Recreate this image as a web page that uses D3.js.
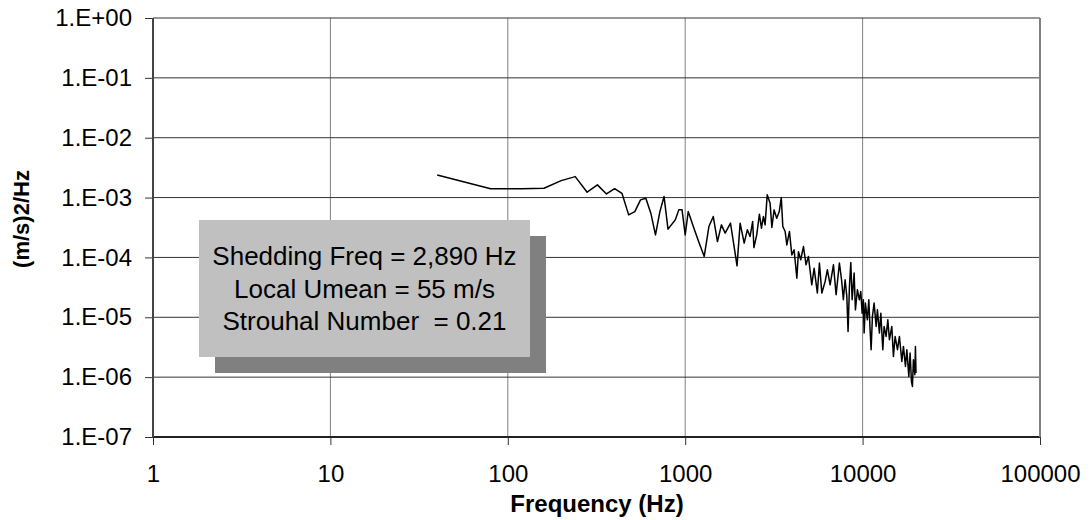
<!DOCTYPE html>
<html lang="en">
<head>
    <meta charset="UTF-8">
    <title>Spectrum</title>
    <script src="https://cdn.jsdelivr.net/npm/d3@7"></script>
    <style>
        body { margin: 0; background: #fff; }
        svg { display: block; font-family: "Liberation Sans", Arial, sans-serif; }
        .tick text { font-size: 24px; fill: #000; }
    </style>
</head>
<body>
<svg width="1090" height="520"></svg>
<script>
    // spectrum
    const freqHz = [
        40, 80, 120, 160, 200, 240, 280, 320, 360, 400,
        440, 480, 520, 560, 600, 640, 680, 720, 760, 800,
        880, 920, 960, 1000, 1040, 1120, 1200, 1280, 1360, 1440,
        1520, 1600, 1680, 1800, 1880, 1960, 2040, 2150, 2240, 2320,
        2400, 2440, 2530, 2620, 2690, 2760, 2820, 2900, 3010, 3080,
        3170, 3280, 3390, 3480, 3550, 3660, 3740, 3870, 3990, 4110,
        4260, 4350, 4480, 4640, 4800, 4950, 5170, 5330, 5560, 5710,
        5890, 6150, 6330, 6560, 6850, 7090, 7400, 7630, 7790, 7970,
        8150, 8280, 8430, 8580, 8730, 8960, 9110, 9350, 9590, 9770,
        9940, 10100, 10200, 10370, 10640, 10840, 11020, 11170, 11360, 11610,
        11920, 12120, 12440, 12670, 13000, 13220, 13570, 13870, 14160, 14610,
        14920, 15250, 15720, 16130, 16640, 16990, 17440, 17760, 18220, 18530,
        18850, 19090, 19340, 19700, 19850, 20000
    ];
    const psd = [
        2.39e-3, 1.40e-3, 1.41e-3, 1.43e-3, 1.92e-3, 2.24e-3, 1.23e-3, 1.63e-3, 1.15e-3, 1.41e-3,
        1.18e-3, 5.14e-4, 5.83e-4, 9.16e-4, 9.77e-4, 5.49e-4, 2.38e-4, 5.83e-4, 1.04e-3, 2.97e-4,
        4.25e-4, 6.23e-4, 6.23e-4, 2.38e-4, 5.83e-4, 3.08e-4, 1.73e-4, 1.04e-4, 3.28e-4, 4.82e-4,
        1.84e-4, 3.50e-4, 2.55e-4, 3.74e-4, 1.62e-4, 7.24e-5, 3.74e-4, 1.73e-4, 2.89e-4, 2.23e-4,
        3.97e-4, 1.46e-4, 2.38e-4, 5.28e-4, 3.08e-4, 4.82e-4, 3.50e-4, 1.11e-3, 8.07e-4, 3.16e-4,
        6.23e-4, 4.53e-4, 5.83e-4, 1.00e-3, 3.28e-4, 2.71e-4, 1.62e-4, 2.71e-4, 1.10e-4, 1.34e-4,
        4.51e-5, 1.25e-4, 9.12e-5, 1.52e-4, 7.52e-5, 1.04e-4, 3.49e-5, 6.62e-5, 2.54e-5, 8.04e-5,
        2.54e-5, 3.96e-5, 6.21e-5, 3.49e-5, 7.52e-5, 2.38e-5, 8.04e-5, 3.96e-5, 1.96e-5, 4.23e-5,
        2.22e-5, 5.79e-6, 3.27e-5, 8.22e-5, 1.96e-5, 5.47e-5, 1.33e-5, 2.88e-5, 1.96e-5, 2.70e-5,
        1.17e-5, 1.96e-5, 5.45e-6, 1.73e-5, 9.08e-6, 1.96e-5, 6.18e-6, 2.87e-6, 1.03e-5, 1.73e-5,
        7.02e-6, 1.33e-5, 5.45e-6, 1.17e-5, 2.87e-6, 7.02e-6, 4.78e-6, 9.08e-6, 4.21e-6, 7.02e-6,
        2.22e-6, 4.78e-6, 2.87e-6, 4.78e-6, 1.83e-6, 3.26e-6, 1.51e-6, 2.87e-6, 1.03e-6, 2.52e-6,
        8.48e-7, 7.00e-7, 1.95e-6, 1.10e-6, 3.26e-6, 1.17e-6
    ];

    const xTicks = [1, 10, 100, 1000, 10000, 100000];
    const xTickLabels = ["1", "10", "100", "1000", "10000", "100000"];
    const yTicks = [1, 1e-1, 1e-2, 1e-3, 1e-4, 1e-5, 1e-6, 1e-7];
    const yTickLabels = ["1.E+00", "1.E-01", "1.E-02", "1.E-03", "1.E-04", "1.E-05", "1.E-06", "1.E-07"];
    const noteLines = ["Shedding Freq = 2,890 Hz", "Local Umean = 55 m/s", "Strouhal Number  = 0.21"];

    const plotLeft = 153, plotRight = 1040, plotTop = 18, plotBottom = 437;

    const svg = d3.select("svg");

    const x = d3.scaleLog().domain([1, 100000]).range([plotLeft, plotRight]);
    const y = d3.scaleLog().domain([1e-7, 1]).range([plotBottom, plotTop]);

    // grid
    svg.append("g").selectAll("line").data(xTicks.slice(1))
        .join("line")
        .attr("x1", d => x(d)).attr("x2", d => x(d))
        .attr("y1", plotTop).attr("y2", plotBottom)
        .attr("stroke", "#808080").attr("stroke-width", 1);
    svg.append("g").selectAll("line").data(yTicks.slice(0, -1))
        .join("line")
        .attr("x1", plotLeft).attr("x2", plotRight)
        .attr("y1", d => y(d)).attr("y2", d => y(d))
        .attr("stroke", "#333").attr("stroke-width", 1);

    // note box with shadow
    const box = {x: 199, y: 220, w: 331, h: 137};
    svg.append("rect")
        .attr("x", box.x + 16).attr("y", box.y + 16)
        .attr("width", box.w).attr("height", box.h)
        .attr("fill", "#808080");
    svg.append("rect")
        .attr("x", box.x).attr("y", box.y)
        .attr("width", box.w).attr("height", box.h)
        .attr("fill", "#c0c0c0");
    svg.append("g").selectAll("text").data(noteLines)
        .join("text")
        .attr("x", box.x + box.w / 2)
        .attr("y", (d, i) => 265 + i * 32.5)
        .attr("text-anchor", "middle")
        .attr("font-size", 26)
        .style("white-space", "pre")
        .text(d => d);

    // the spectrum
    const line = d3.line()
        .x((d, i) => x(freqHz[i]))
        .y(d => y(d));
    svg.append("path")
        .datum(psd)
        .attr("d", line)
        .attr("fill", "none")
        .attr("stroke", "#000")
        .attr("stroke-width", 1.5)
        .attr("stroke-linejoin", "round");

    // axes
    const xAxis = svg.append("g")
        .attr("transform", `translate(0,${plotBottom})`)
        .call(d3.axisBottom(x).tickValues(xTicks).tickSize(8).tickPadding(20)
            .tickFormat((d, i) => xTickLabels[i]));
    const yAxis = svg.append("g")
        .attr("transform", `translate(${plotLeft},0)`)
        .call(d3.axisLeft(y).tickValues(yTicks).tickSize(8).tickPadding(13)
            .tickFormat((d, i) => yTickLabels[i]));

    [xAxis, yAxis].forEach(a => {
        a.select(".domain").remove();
        a.selectAll(".tick line").attr("stroke", "#333");
        a.selectAll(".tick text").attr("font-family", null).attr("font-size", null);
    });

    svg.append("line")
        .attr("x1", plotLeft).attr("x2", plotRight).attr("y1", plotBottom).attr("y2", plotBottom)
        .attr("stroke", "#222").attr("stroke-width", 2);
    svg.append("line")
        .attr("x1", plotLeft).attr("x2", plotLeft).attr("y1", plotTop).attr("y2", plotBottom)
        .attr("stroke", "#444").attr("stroke-width", 2);
    svg.append("line")
        .attr("x1", plotRight).attr("x2", plotRight).attr("y1", plotTop).attr("y2", plotBottom)
        .attr("stroke", "#808080").attr("stroke-width", 2);

    // titles
    svg.append("text")
        .attr("x", (plotLeft + plotRight) / 2 + 0.5)
        .attr("y", 512)
        .attr("text-anchor", "middle")
        .attr("font-size", 24).attr("font-weight", "bold")
        .text("Frequency (Hz)");
    svg.append("text")
        .attr("transform", "translate(29,219) rotate(-90)")
        .attr("text-anchor", "middle")
        .attr("font-size", 22).attr("font-weight", "bold")
        .text("(m/s)2/Hz");
</script>
</body>
</html>
